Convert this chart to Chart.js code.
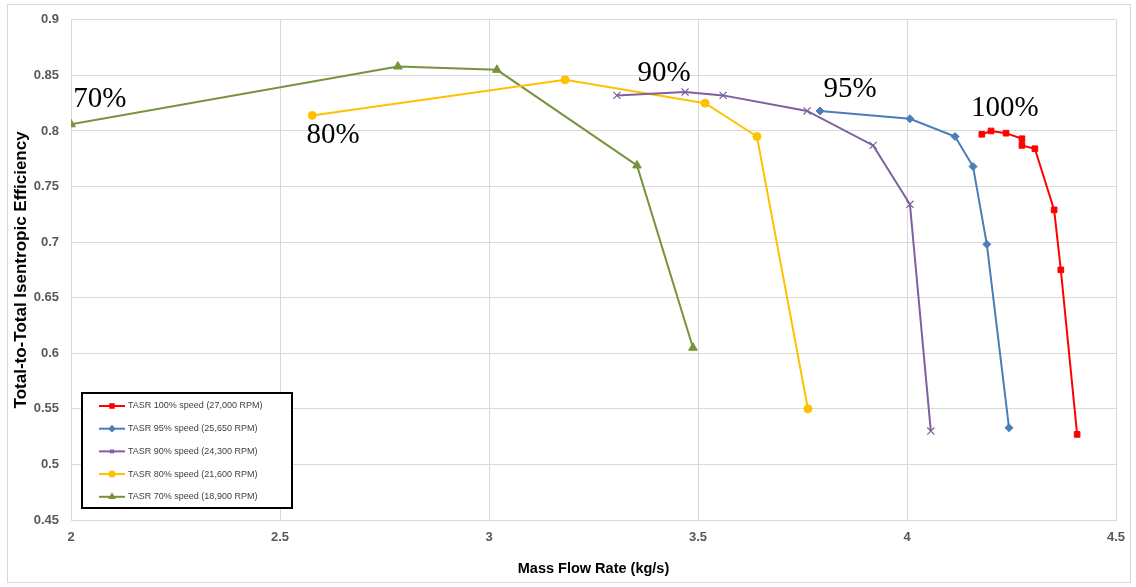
<!DOCTYPE html>
<html>
<head>
<meta charset="utf-8">
<script src="https://cdn.jsdelivr.net/npm/chart.js@4.4.1/dist/chart.umd.min.js"></script>
<style>
  html, body { margin: 0; padding: 0; background: #fff; }
  #wrap { width: 1136px; height: 587px; position: relative; }
</style>
</head>
<body>
<div id="wrap"><canvas id="chart" width="1136" height="587"></canvas></div>
<script>
// Data (mass flow kg/s, efficiency)
const speed100X = [4.179, 4.201, 4.237, 4.275, 4.275, 4.306, 4.352, 4.368, 4.407];
const speed100Y = [0.797, 0.800, 0.798, 0.793, 0.787, 0.784, 0.729, 0.675, 0.527];

const speed95X = [3.792, 4.007, 4.115, 4.158, 4.191, 4.244];
const speed95Y = [0.818, 0.811, 0.795, 0.768, 0.698, 0.533];

const speed90X = [3.306, 3.469, 3.560, 3.761, 3.919, 4.007, 4.057];
const speed90Y = [0.832, 0.835, 0.832, 0.818, 0.787, 0.734, 0.530];

const speed80X = [2.577, 3.182, 3.517, 3.641, 3.763];
const speed80Y = [0.814, 0.846, 0.825, 0.795, 0.550];

const speed70X = [2.0, 2.782, 3.019, 3.354, 3.488];
const speed70Y = [0.806, 0.858, 0.855, 0.769, 0.605];

const seriesNames = [
  "TASR 100% speed (27,000 RPM)",
  "TASR 95% speed (25,650 RPM)",
  "TASR 90% speed (24,300 RPM)",
  "TASR 80% speed (21,600 RPM)",
  "TASR 70% speed (18,900 RPM)"
];

// speed labels placed in data coordinates
const speedLabels = ["70%", "80%", "90%", "95%", "100%"];
const speedLabelX = [2.069, 2.627, 3.419, 3.864, 4.234];
const speedLabelY = [0.828, 0.796, 0.852, 0.837, 0.820];

function pts(xs, ys) {
  return xs.map((x, i) => ({ x: x, y: ys[i] }));
}

const styles = [
  { color: "#ff0000", point: "rect", radius: 4 },
  { color: "#4a7ebb", point: "rectRot", radius: 4 },
  { color: "#7d60a0", point: "crossRot", radius: 5 },
  { color: "#ffc000", point: "circle", radius: 4 },
  { color: "#77933c", point: "triangle", radius: 5 }
];

const allX = [speed100X, speed95X, speed90X, speed80X, speed70X];
const allY = [speed100Y, speed95Y, speed90Y, speed80Y, speed70Y];

const datasets = seriesNames.map((name, i) => ({
  label: name,
  data: pts(allX[i], allY[i]),
  showLine: true,
  borderColor: styles[i].color,
  backgroundColor: styles[i].color,
  pointStyle: styles[i].point,
  pointRadius: styles[i].radius,
  pointBorderWidth: styles[i].point === "crossRot" ? 1.2 : 1,
  borderWidth: 2
}));

// outer frame
const framePlugin = {
  id: "frame",
  beforeDraw(chart) {
    const ctx = chart.ctx;
    ctx.save();
    ctx.strokeStyle = "#d9d9d9";
    ctx.lineWidth = 1;
    ctx.strokeRect(7.5, 4.5, 1123, 578);
    ctx.restore();
  }
};

// speed text labels
const speedLabelPlugin = {
  id: "speedLabels",
  afterDatasetsDraw(chart) {
    const ctx = chart.ctx;
    const xs = chart.scales.x, ys = chart.scales.y;
    ctx.save();
    ctx.font = "29px 'Liberation Serif', 'DejaVu Serif', serif";
    ctx.fillStyle = "#000";
    ctx.textAlign = "center";
    ctx.textBaseline = "middle";
    speedLabels.forEach((t, i) => {
      ctx.fillText(t, xs.getPixelForValue(speedLabelX[i]), ys.getPixelForValue(speedLabelY[i]));
    });
    ctx.restore();
  }
};

// legend box inside the plot area, lower left
const boxLegendPlugin = {
  id: "boxLegend",
  afterDraw(chart) {
    const ctx = chart.ctx;
    const area = chart.chartArea;
    const w = 210, h = 115;
    const left = area.left + 11;
    const top = area.bottom - 12 - h;
    ctx.save();
    ctx.fillStyle = "#fff";
    ctx.fillRect(left, top, w, h);
    ctx.strokeStyle = "#000";
    ctx.lineWidth = 2;
    ctx.strokeRect(left, top, w, h);
    ctx.font = "9px 'Liberation Sans', sans-serif";
    ctx.textBaseline = "middle";
    chart.data.datasets.forEach((ds, i) => {
      const y = top + 13 + i * 22.7;
      ctx.strokeStyle = ds.borderColor;
      ctx.lineWidth = 2;
      ctx.beginPath();
      ctx.moveTo(left + 17, y);
      ctx.lineTo(left + 43, y);
      ctx.stroke();
      Chart.helpers.drawPoint(ctx, {
        pointStyle: ds.pointStyle,
        radius: 2.5,
        borderWidth: 1,
        rotation: 0
      }, left + 30, y);
      ctx.fillStyle = ds.backgroundColor;
      ctx.fill();
      ctx.fillStyle = "#404040";
      ctx.fillText(ds.label, left + 46, y);
    });
    ctx.restore();
  }
};

const tickFont = { family: "'Liberation Sans', sans-serif", size: 13, weight: "bold" };

new Chart(document.getElementById("chart"), {
  type: "scatter",
  data: { datasets: datasets },
  options: {
    responsive: false,
    animation: false,
    layout: { padding: { left: 8, top: 15, right: 20, bottom: 5 } },
    plugins: {
      legend: { display: false },
      tooltip: { enabled: false }
    },
    scales: {
      x: {
        type: "linear",
        min: 2,
        max: 4.5,
        ticks: {
          stepSize: 0.5,
          color: "#595959",
          font: tickFont,
          padding: 10,
          callback: v => Number(v.toFixed(1)).toString()
        },
        grid: { color: "#d9d9d9", drawTicks: false },
        border: { color: "#d9d9d9" },
        title: {
          display: true, text: "Mass Flow Rate (kg/s)", color: "#000",
          font: { family: "'Liberation Sans', sans-serif", size: 14.5, weight: "bold" },
          padding: { top: 4, bottom: 4 }
        },
        afterFit(scale) { scale.height = 62; }
      },
      y: {
        type: "linear",
        min: 0.45,
        max: 0.9,
        ticks: {
          stepSize: 0.05,
          color: "#595959",
          font: tickFont,
          padding: 12,
          callback: v => Number(v.toFixed(2)).toString()
        },
        grid: { color: "#d9d9d9", drawTicks: false },
        border: { color: "#d9d9d9" },
        title: {
          display: true, text: "Total-to-Total Isentropic Efficiency", color: "#000",
          font: { family: "'Liberation Sans', sans-serif", size: 17, weight: "bold" },
          padding: { top: 3, bottom: 4 }
        },
        afterFit(scale) { scale.width = 63; }
      }
    }
  },
  plugins: [framePlugin, speedLabelPlugin, boxLegendPlugin]
});
</script>
</body>
</html>
